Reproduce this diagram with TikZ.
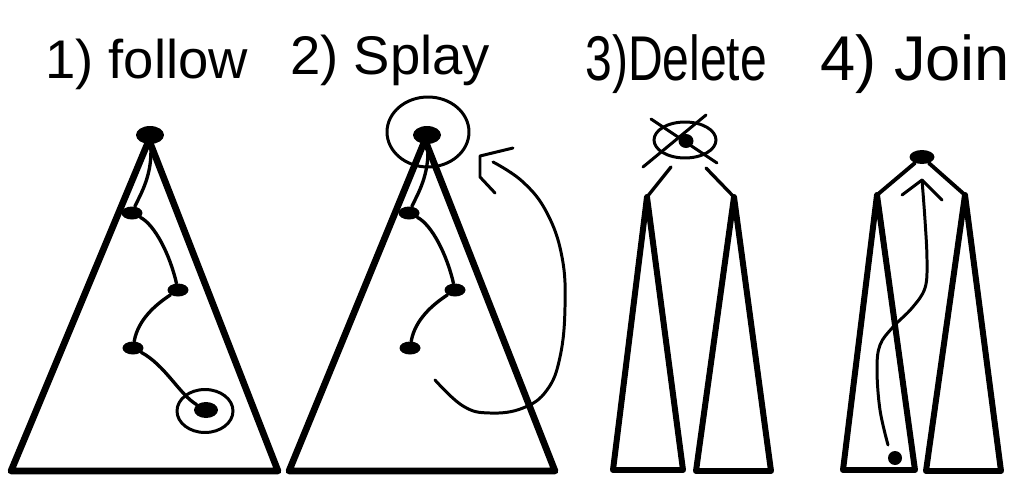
\documentclass[tikz,border=0pt]{standalone}
\usepackage{fontspec}
\setmainfont{Liberation Sans}
\usetikzlibrary{shapes.geometric}
\begin{document}
\begin{tikzpicture}[x=0.02cm,y=-0.02cm,
  tri/.style={line width=3.8pt, line join=round, line cap=round},
  slim/.style={line width=3.4pt, line join=round, line cap=round},
  edge/.style={line width=1.9pt, line cap=round},
  pen/.style={line width=1.7pt, line cap=round, line join=round},
  blob/.style={ellipse, fill=black, inner sep=0pt, minimum width=0.42cm, minimum height=0.26cm},
  bigblob/.style={blob, minimum width=0.56cm, minimum height=0.36cm},
  ring/.style={ellipse, draw, line width=1.7pt, inner sep=0pt},
  title/.style={anchor=base west, inner sep=0pt}]
\fill[white] (0,0) rectangle (1018,480);
\useasboundingbox (0,0) rectangle (1018,480);

% titles
\node[title, font=\fontsize{31}{36}\selectfont] (h1) at (45,78) {1) follow};
\node[title, font=\fontsize{31}{36}\selectfont] (h2) at (290,74) {2) Splay};
\node[title, font=\fontsize{36}{40}\selectfont] (h3) at (585,80) {\scalebox{0.76}[1]{3)Delete}};
\node[title, font=\fontsize{36}{40}\selectfont] (h4) at (820,80) {4) Join};

% ---------- 1) follow ----------
\coordinate (t1a) at (149,140);
\coordinate (t1l) at (11,471);
\coordinate (t1r) at (278,471);
\draw[tri] (t1a) -- (t1l) -- (t1r) -- cycle;
\node[bigblob] (f1) at (150,135) {};
\node[blob] (f2) at (132,213) {};
\node[blob] (f3) at (178,290) {};
\node[blob] (f4) at (133,348) {};
\node[blob, minimum width=0.48cm, minimum height=0.32cm] (f5) at (206,410) {};
\node[ring, minimum width=1.12cm, minimum height=0.86cm] (f5ring) at (205,411) {};
\draw[edge] (f1) .. controls (153,175) and (140,195) .. (f2);
\draw[edge] (f2) .. controls (155,225) and (170,255) .. (f3);
\draw[edge] (f3) .. controls (155,305) and (138,320) .. (f4);
\draw[edge] (f4) .. controls (165,365) and (180,395) .. (f5);

% ---------- 2) splay ----------
\coordinate (t2a) at (425,140);
\coordinate (t2l) at (289,471);
\coordinate (t2r) at (555,471);
\draw[tri] (t2a) -- (t2l) -- (t2r) -- cycle;
\node[bigblob] (s1) at (427,135) {};
\node[blob] (s2) at (409,213) {};
\node[blob] (s3) at (455,290) {};
\node[blob] (s4) at (410,348) {};
\node[ring, minimum width=1.64cm, minimum height=1.4cm] (s1ring) at (428,132) {};
\draw[edge] (s1) .. controls (430,175) and (417,195) .. (s2);
\draw[edge] (s2) .. controls (432,225) and (447,255) .. (s3);
\draw[edge] (s3) .. controls (432,305) and (415,320) .. (s4);
\coordinate (sastart) at (435,380);
\coordinate (satip) at (480,156);
\draw[pen] plot[smooth, tension=0.7] coordinates {(sastart) (463,406) (490,413) (523,408) (547,390) (560,357) (565,307) (562,257) (547,213) (523,182) (493,162)};
\draw[pen] (513,148) -- (satip) -- (480,177) -- (495,193);

% ---------- 3) delete ----------
\node[blob, minimum width=0.3cm, minimum height=0.28cm] (d0) at (686,141) {};
\node[ring, minimum width=1.24cm, minimum height=0.72cm] (dring) at (685,140) {};
\coordinate (dx1a) at (651,119);
\coordinate (dx1b) at (717,163);
\coordinate (dx2a) at (706,115);
\coordinate (dx2b) at (643,167);
\draw[pen] (dx1a) -- (dx1b);
\draw[pen] (dx2a) -- (dx2b);
\coordinate (dla) at (647,197);
\coordinate (dll) at (613,470);
\coordinate (dlr) at (683,470);
\coordinate (dra) at (734,197);
\coordinate (drl) at (696,471);
\coordinate (drr) at (771,471);
\coordinate (del1) at (671,167);
\coordinate (del2) at (706,168);
\draw[edge] (del1) -- (dla);
\draw[edge] (del2) -- (dra);
\draw[slim] (dla) -- (dll) -- (dlr) -- cycle;
\draw[slim] (dra) -- (drl) -- (drr) -- cycle;

% ---------- 4) join ----------
\coordinate (jla) at (877,195);
\coordinate (jll) at (843,470);
\coordinate (jlr) at (915,470);
\coordinate (jra) at (965,195);
\coordinate (jrl) at (926,471);
\coordinate (jrr) at (1001,471);
\draw[slim] (jla) -- (jll) -- (jlr) -- cycle;
\draw[slim] (jra) -- (jrl) -- (jrr) -- cycle;
\node[blob, minimum width=0.5cm, minimum height=0.28cm] (j0) at (922,157) {};
\draw[line width=2.2pt, line cap=round] (j0) -- (jla);
\draw[line width=2.2pt, line cap=round] (j0) -- (jra);
\node[circle, fill=black, inner sep=0pt, minimum size=0.28cm] (jdot) at (895,458) {};
\coordinate (jstart) at (888,445);
\coordinate (jtip) at (922,180);
\draw[pen] plot[smooth, tension=0.6] coordinates {(jstart) (880,410) (877,370) (880,345) (893,327) (912,308) (925,288) (927,260) (925,220) (jtip)};
\draw[pen] (902,195) -- (jtip) -- (942,200);
\end{tikzpicture}
\end{document}
